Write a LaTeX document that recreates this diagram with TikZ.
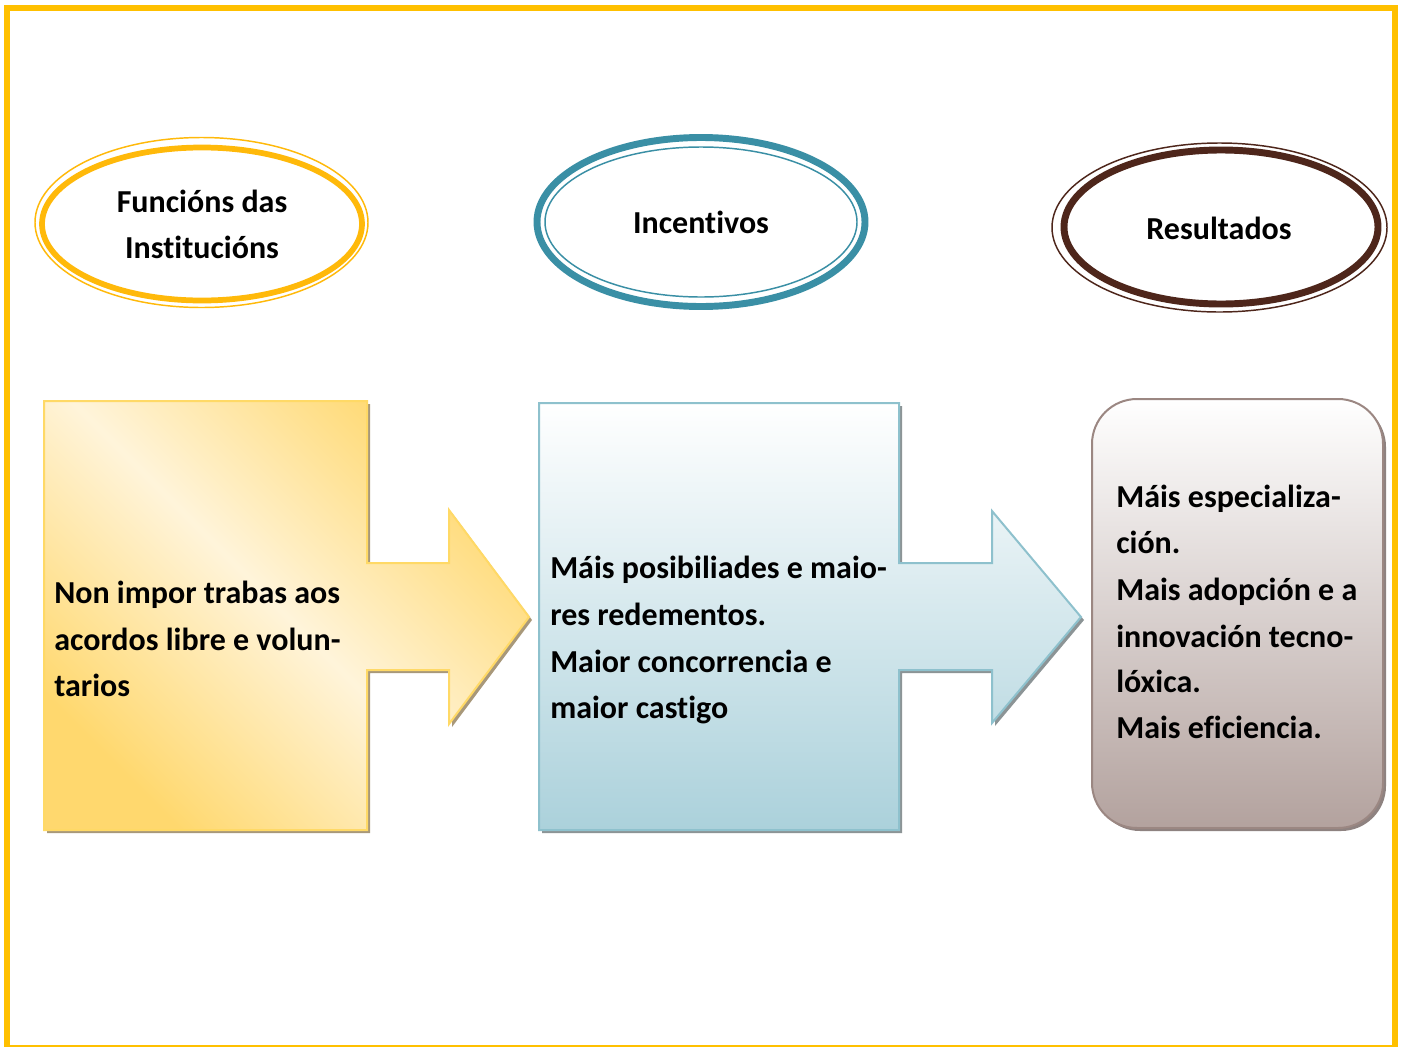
\documentclass[tikz,border=0pt]{standalone}
\usepackage{fontspec}
\setmainfont{Carlito}[Ligatures=NoCommon]
\definecolor{frameY}{HTML}{FFC000}
\definecolor{ringY}{HTML}{FFB90A}
\definecolor{ringT}{HTML}{3A8FA5}
\definecolor{ringB}{HTML}{4E261B}
\definecolor{boxYdark}{HTML}{FFD86E}
\definecolor{boxYlight}{HTML}{FFF4DA}
\definecolor{boxYline}{HTML}{FFD966}
\definecolor{boxTbot}{HTML}{ABD1DB}
\definecolor{boxTline}{HTML}{8EC1CD}
\definecolor{boxBbot}{HTML}{B3A29E}
\definecolor{boxBline}{HTML}{9B8782}
\definecolor{shadY}{HTML}{A8987A}
\definecolor{shadT}{HTML}{8C9496}
\definecolor{shadB}{HTML}{8E8280}
\tikzset{
  lbl/.style={font=\fontsize{24}{34.9}\selectfont\bfseries, inner sep=0pt, anchor=base west},
  head/.style={font=\fontsize{24}{34.9}\selectfont\bfseries, inner sep=0pt, anchor=base},
}
\begin{document}
\begin{tikzpicture}[x=0.75pt,y=-0.75pt]
\useasboundingbox (0,0) rectangle (1402,1046);
\fill[white] (0,0) rectangle (1402,1046);
% frame
\draw[frameY, line width=4.5pt] (7,8) rectangle (1395,1048);

% ellipse 1 (yellow)
\draw[ringY, line width=1.1pt] (201.5,222.5) ellipse [x radius=166.5, y radius=85];
\draw[ringY, line width=4.3pt] (202,224) ellipse [x radius=160, y radius=76.5];
\node[head] (h1a) at (202,212) {Funcións das};
\node[head] (h1b) at (202,258) {Institucións};

% ellipse 2 (teal)
\draw[ringT, line width=5.2pt] (701,222) ellipse [x radius=164, y radius=84.5];
\draw[ringT, line width=1.1pt] (701,222) ellipse [x radius=156, y radius=75];
\node[head] (h2) at (701,233) {Incentivos};

% ellipse 3 (brown)
\draw[ringB, line width=1.1pt] (1219.5,227.5) ellipse [x radius=167.5, y radius=84.5];
\draw[ringB, line width=5.2pt] (1221,227) ellipse [x radius=157, y radius=77];
\node[head] (h3) at (1219,239) {Resultados};

% box 1 arrow
\fill[shadY] (47,404) -- (370,404) -- (370,566) -- (452,566) -- (452,513) -- (532,620) -- (452,727) -- (452,673) -- (370,673) -- (370,833) -- (47,833) -- cycle;
\draw[boxYline, line width=1.5pt, shading=axis, top color=boxYdark, bottom color=boxYdark, middle color=boxYlight, shading angle=-45]
  (44,401) -- (367,401) -- (367,563) -- (449,563) -- (449,510) -- (529,617) -- (449,724) -- (449,670) -- (367,670) -- (367,830) -- (44,830) -- cycle;
\node[lbl] (t1a) at (54,603) {Non impor trabas aos};
\node[lbl] (t1b) at (54,650) {acordos libre e volun-};
\node[lbl] (t1c) at (54,696) {tarios};

% box 2 arrow
\fill[shadT] (542,406) -- (902,406) -- (902,566) -- (995,566) -- (995,514) -- (1084,620) -- (995,726) -- (995,673) -- (902,673) -- (902,833) -- (542,833) -- cycle;
\draw[boxTline, line width=1.5pt, top color=white, bottom color=boxTbot]
  (539,403) -- (899,403) -- (899,563) -- (992,563) -- (992,511) -- (1081,617) -- (992,723) -- (992,670) -- (899,670) -- (899,830) -- (539,830) -- cycle;
\node[lbl] (t2a) at (550,578) {Máis posibiliades e maio-};
\node[lbl] (t2b) at (550,625) {res redementos.};
\node[lbl] (t2c) at (550,672) {Maior concorrencia e};
\node[lbl] (t2d) at (550,718) {maior castigo};

% box 3 rounded
\fill[shadB, rounded corners=33.75pt] (1095,402) rectangle (1386,831);
\draw[boxBline, line width=1.5pt, rounded corners=33.75pt, top color=white, bottom color=boxBbot] (1092,399) rectangle (1383,828);
\node[lbl] (t3a) at (1116,507) {Máis especializa-};
\node[lbl] (t3b) at (1116,553) {ción.};
\node[lbl] (t3c) at (1116,600) {Mais adopción e a};
\node[lbl] (t3d) at (1116,647) {innovación tecno-};
\node[lbl] (t3e) at (1116,692) {lóxica.};
\node[lbl] (t3f) at (1116,738) {Mais eficiencia.};
\end{tikzpicture}
\end{document}
